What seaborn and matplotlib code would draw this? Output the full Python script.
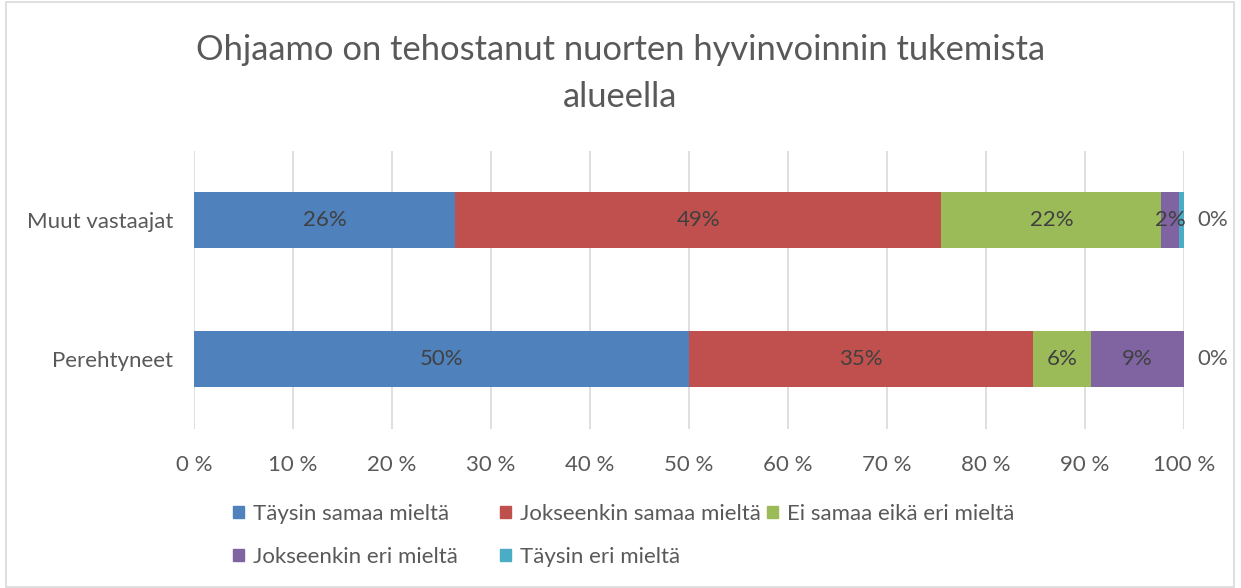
import matplotlib
matplotlib.use("Agg")
import matplotlib.pyplot as plt
import seaborn as sns
import pandas as pd
import numpy as np
from matplotlib.patches import Rectangle

categories = ["Muut vastaajat", "Perehtyneet"]
series_names = ["Täysin samaa mieltä", "Jokseenkin samaa mieltä", "Ei samaa eikä eri mieltä",
                "Jokseenkin eri mieltä", "Täysin eri mieltä"]
taysin_samaa = [26.4, 50.0]
jokseenkin_samaa = [49.1, 34.7]
ei_samaa_eika_eri = [22.2, 5.9]
jokseenkin_eri = [1.8, 9.4]
taysin_eri = [0.5, 0.0]
xtick_labels = ["0 %", "10 %", "20 %", "30 %", "40 %", "50 %", "60 %", "70 %", "80 %", "90 %", "100 %"]
colors = ["#4F81BD", "#C0504D", "#9BBB59", "#8064A2", "#4BACC6"]

series = [taysin_samaa, jokseenkin_samaa, ei_samaa_eika_eri, jokseenkin_eri, taysin_eri]

sns.set_style("white")
plt.rcParams['font.family'] = ['Lato', 'DejaVu Sans']
txt = "#595959"
lbl = "#404040"

W, H = 1241, 588
fig = plt.figure(figsize=(W / 100, H / 100), dpi=100)
ax = fig.add_axes([194/W, 1-428.5/H, 990/W, 278/H])

cum = np.cumsum(np.array(series), axis=0)
# draw from the largest cumulative back to the first so segments show correctly
for i in range(len(series) - 1, -1, -1):
    df = pd.DataFrame({"cat": categories, "val": cum[i]})
    sns.barplot(data=df, y="cat", x="val", orient="h", color=colors[i], width=0.4,
                saturation=1, ax=ax, linewidth=0, order=categories)

# data labels
for j in range(len(categories)):
    for i in range(len(series)):
        v = series[i][j]
        start = cum[i][j] - v
        if i == len(series) - 1:
            xpos = 102.9
            col = txt
        else:
            xpos = start + v / 2
            col = lbl
        ax.text(xpos, j, f"{v:.0f}%", ha="center", va="center", fontsize=16, color=col)

ax.set_xlim(0, 100)
ax.set_ylim(1.5, -0.5)
ax.set_xticks(np.arange(0, 101, 10))
ax.set_xticklabels(xtick_labels, fontsize=16, color=txt)
ax.tick_params(axis="y", labelsize=16, labelcolor=txt, length=0, pad=15)
ax.tick_params(axis="x", length=0, pad=19)
ax.set_xlabel("")
ax.set_ylabel("")
ax.grid(axis="x", color="#D9D9D9", linewidth=1.2)
ax.set_axisbelow(True)
for s in ax.spines.values():
    s.set_visible(False)

fig.text(0.5, 1-50/H, "Ohjaamo on tehostanut nuorten hyvinvoinnin tukemista", ha="center", va="center",
         fontsize=24.8, color=txt)
fig.text(0.5, 1-97/H, "alueella", ha="center", va="center", fontsize=24.8, color=txt)

# legend: one entry per slot, rows of three like the reference
leg_x = [233, 500, 767, 233, 500]
leg_y = [514, 514, 514, 557, 557]
for k, name in enumerate(series_names):
    h = Rectangle((0, 0), 1, 1, color=colors[k])
    lg = fig.legend([h], [name], loc="center left", bbox_to_anchor=(leg_x[k]/W, 1-leg_y[k]/H),
                    frameon=False, fontsize=16, labelcolor=txt, handlelength=0.5, handleheight=0.5,
                    handletextpad=0.4, borderpad=0, borderaxespad=0)

fig.patches.append(Rectangle((6/W, 0.002), 1228/W, 0.995, transform=fig.transFigure,
                             fill=False, edgecolor="#D9D9D9", linewidth=1.2))

fig.savefig("out.png", dpi=100)
